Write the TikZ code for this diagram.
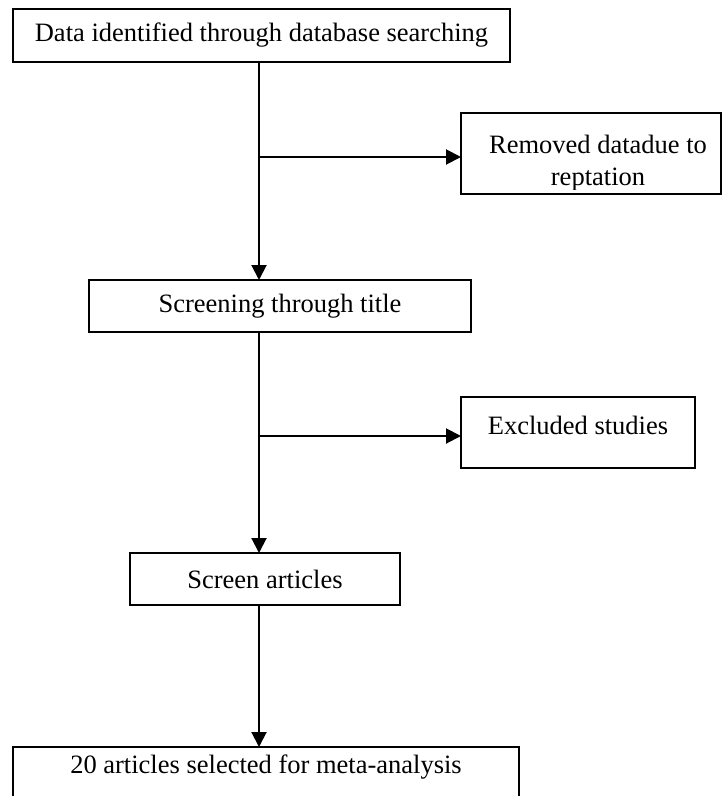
\documentclass[tikz,border=0pt]{standalone}
\usepackage{fontspec}
\setmainfont{Liberation Serif}
\usetikzlibrary{arrows.meta}
\begin{document}
\begin{tikzpicture}[x=1pt,y=-1pt,
  font=\fontsize{26.5}{32}\selectfont,
  box/.style={draw=black,line width=2.6pt,rectangle,inner sep=0pt,outer sep=0pt},
  lbl/.style={inner sep=0pt,align=center},
  arr/.style={line width=2pt,-{Triangle[length=15pt,width=15pt]}},
  plain/.style={line width=2pt}]
\clip (0,0) rectangle (724,796);
\fill[white] (0,0) rectangle (724,796);
% boxes
\node[box,minimum width=497pt,minimum height=53pt] (top) at (261.5,35.5) {Data identified through database searching};
\node[box,minimum width=260pt,minimum height=81pt] (rem) at (591,153.5) {};
\node[box,minimum width=382pt,minimum height=52pt] (scr) at (280,306) {Screening through title};
\node[box,minimum width=234pt,minimum height=71pt] (exc) at (578,432.5) {};
\node[lbl] (exct) at (578,425) {Excluded studies};
\node[box,minimum width=270pt,minimum height=52pt] (sa) at (265,579) {Screen articles};
\node[box,minimum width=506pt,minimum height=70pt] (bot) at (266,782) {};
\node[lbl] (bott) at (266,767) {20 articles selected for meta-analysis};
\begin{scope}
\clip (461,113) rectangle (721,189);
\node[lbl] (remt) at (598,163) {Removed datadue to\\reptation};
\end{scope}
% connectors
\coordinate (b1) at (259,157);
\coordinate (b2) at (259,436);
\draw[arr] (top.south -| b1) -- (scr.north -| b1);
\draw[arr] (b1) -- (rem.west |- b1);
\draw[arr] (scr.south -| b2) -- (sa.north -| b2);
\draw[arr] (b2) -- (exc.west |- b2);
\draw[arr] (sa.south -| b2) -- (bot.north -| b2);
\end{tikzpicture}
\end{document}
